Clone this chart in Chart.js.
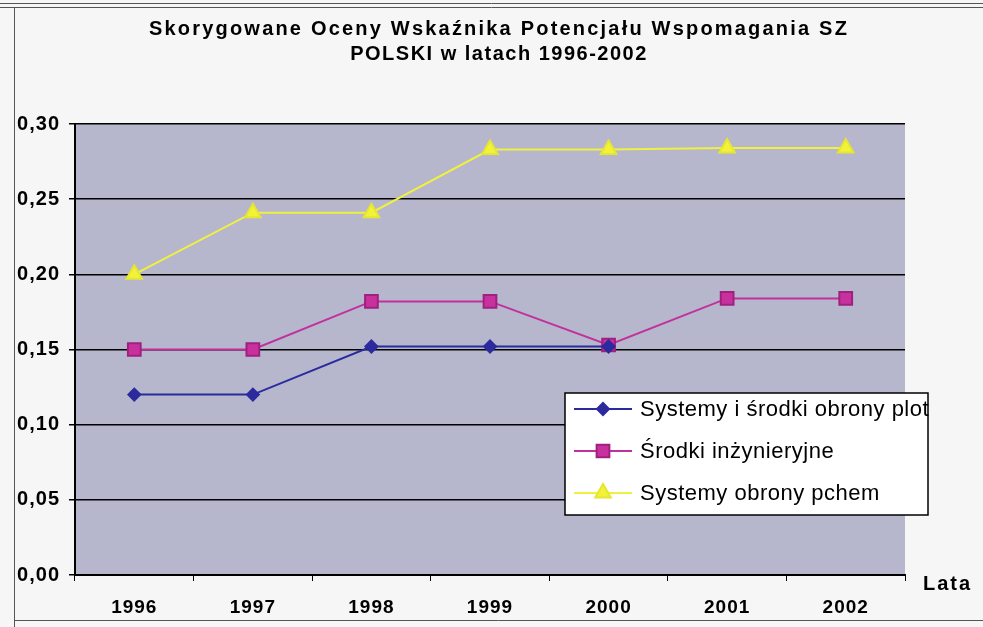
<!DOCTYPE html>
<html>
<head>
<meta charset="utf-8">
<script src="https://cdn.jsdelivr.net/npm/chart.js@4.4.1/dist/chart.umd.min.js"></script>
<style>
  html, body { margin: 0; padding: 0; background: #f6f6f6; }
  #wrap { width: 983px; height: 627px; position: relative; }
</style>
</head>
<body>
<div id="wrap"><canvas id="wykres"></canvas></div>
<script>
// lata i oceny wskaznika
var lata = ['1996', '1997', '1998', '1999', '2000', '2001', '2002'];
var obronaPlot = [0.120, 0.120, 0.152, 0.152, 0.152, null, null];
var srodkiInz = [0.150, 0.150, 0.182, 0.182, 0.153, 0.184, 0.184];
var obronaPchem = [0.200, 0.241, 0.241, 0.283, 0.283, 0.284, 0.284];
var nazwySerii = ['Systemy i \u015brodki obrony plot', '\u015arodki in\u017cynieryjne', 'Systemy obrony pchem'];
var tytul = ['Skorygowane Oceny Wska\u017anika Potencja\u0142u Wspomagania SZ', 'POLSKI w latach 1996-2002'];

var czcionka = '"Liberation Sans", Arial, sans-serif';

// tlo, ramka, tytul, opis osi i legenda
var dekoracje = {
    id: 'dekoracje',
    beforeDraw: function (chart) {
        var ctx = chart.ctx;
        var a = chart.chartArea;
        ctx.save();
        ctx.fillStyle = '#f6f6f6';
        ctx.fillRect(0, 0, chart.width, chart.height);
        // ramka wykresu
        ctx.strokeStyle = '#555';
        ctx.lineWidth = 1;
        ctx.beginPath();
        ctx.moveTo(0, 3.5); ctx.lineTo(chart.width, 3.5);
        ctx.moveTo(0, 7.5); ctx.lineTo(chart.width, 7.5);
        ctx.moveTo(14.5, 7); ctx.lineTo(14.5, chart.height);
        ctx.moveTo(14, 620.5); ctx.lineTo(chart.width, 620.5);
        ctx.stroke();
        // obszar kreslenia
        ctx.fillStyle = '#b6b6cd';
        ctx.fillRect(a.left, a.top, a.right - a.left, a.bottom - a.top);
        ctx.restore();
        // opisy osi troche szersze
        ctx.letterSpacing = '1px';
    },
    afterDraw: function (chart) {
        var ctx = chart.ctx;
        ctx.save();
        ctx.fillStyle = '#000';
        ctx.textAlign = 'center';
        ctx.textBaseline = 'middle';
        ctx.font = 'bold 20px ' + czcionka;
        ctx.letterSpacing = '2.2px';
        ctx.fillText(tytul[0], 499, 29);
        ctx.letterSpacing = '1.5px';
        ctx.fillText(tytul[1], 499, 54);
        ctx.letterSpacing = '2px';
        ctx.textAlign = 'left';
        ctx.fillText('Lata', 923, 584);

        // legenda
        var lx = 565, ly = 393, lw = 363, lh = 122;
        ctx.fillStyle = '#fff';
        ctx.fillRect(lx, ly, lw, lh);
        ctx.strokeStyle = '#000';
        ctx.lineWidth = 1.5;
        ctx.strokeRect(lx, ly, lw, lh);
        ctx.letterSpacing = '0.5px';
        ctx.font = '22px ' + czcionka;
        for (var i = 0; i < chart.data.datasets.length; i++) {
            var ds = chart.data.datasets[i];
            var y = ly + 16 + i * 42;
            ctx.strokeStyle = ds.borderColor;
            ctx.lineWidth = 2;
            ctx.beginPath();
            ctx.moveTo(lx + 9, y);
            ctx.lineTo(lx + 67, y);
            ctx.stroke();
            ctx.fillStyle = ds.pointBackgroundColor;
            ctx.strokeStyle = ds.pointBorderColor;
            Chart.helpers.drawPoint(ctx, {
                pointStyle: ds.pointStyle,
                radius: ds.pointRadius,
                borderWidth: 1
            }, lx + 38, y);
            ctx.fillStyle = '#000';
            ctx.fillText(nazwySerii[i], lx + 75, y + 1);
        }
        ctx.restore();
        ctx.letterSpacing = '0px';
    }
};

new Chart(document.getElementById('wykres'), {
    type: 'line',
    data: {
        labels: lata,
        datasets: [
            {
                label: nazwySerii[0],
                data: obronaPlot,
                borderColor: '#2b2b9e',
                backgroundColor: '#2b2b9e',
                pointBackgroundColor: '#2b2b9e',
                pointBorderColor: '#2b2b9e',
                pointStyle: 'rectRot',
                pointRadius: 6,
                borderWidth: 2,
                spanGaps: false
            },
            {
                label: nazwySerii[1],
                data: srodkiInz,
                borderColor: '#c2309c',
                backgroundColor: '#c2309c',
                pointBackgroundColor: '#c8309e',
                pointBorderColor: '#a02080',
                pointStyle: 'rect',
                pointRadius: 9,
                borderWidth: 2
            },
            {
                label: nazwySerii[2],
                data: obronaPchem,
                borderColor: '#f0f040',
                backgroundColor: '#f0f040',
                pointBackgroundColor: '#f2f238',
                pointBorderColor: '#e6e630',
                pointStyle: 'triangle',
                pointRadius: 9,
                borderWidth: 2
            }
        ]
    },
    options: {
        responsive: true,
        maintainAspectRatio: false,
        animation: false,
        layout: { padding: { top: 124, right: 78, bottom: 0, left: 0 } },
        plugins: {
            legend: { display: false },
            title: { display: false },
            tooltip: { enabled: false }
        },
        elements: { line: { tension: 0 } },
        scales: {
            x: {
                offset: true,
                afterFit: function (scale) { scale.height = 52; },
                grid: {
                    offset: true,
                    drawOnChartArea: false,
                    drawTicks: true,
                    tickLength: 6,
                    color: '#000',
                    lineWidth: 1
                },
                border: { display: true, color: '#000', width: 2 },
                ticks: {
                    color: '#000',
                    padding: 15,
                    font: { family: czcionka, size: 19, weight: 'bold' }
                }
            },
            y: {
                min: 0,
                max: 0.3,
                afterFit: function (scale) { scale.width = 75; },
                grid: {
                    color: '#000',
                    lineWidth: 1.5,
                    drawTicks: true,
                    tickLength: 6
                },
                border: { display: true, color: '#000', width: 2 },
                ticks: {
                    stepSize: 0.05,
                    color: '#000',
                    padding: 9,
                    font: { family: czcionka, size: 20, weight: 'bold' },
                    callback: function (v) { return v.toFixed(2).replace('.', ','); }
                }
            }
        }
    },
    plugins: [dekoracje]
});
</script>
</body>
</html>
